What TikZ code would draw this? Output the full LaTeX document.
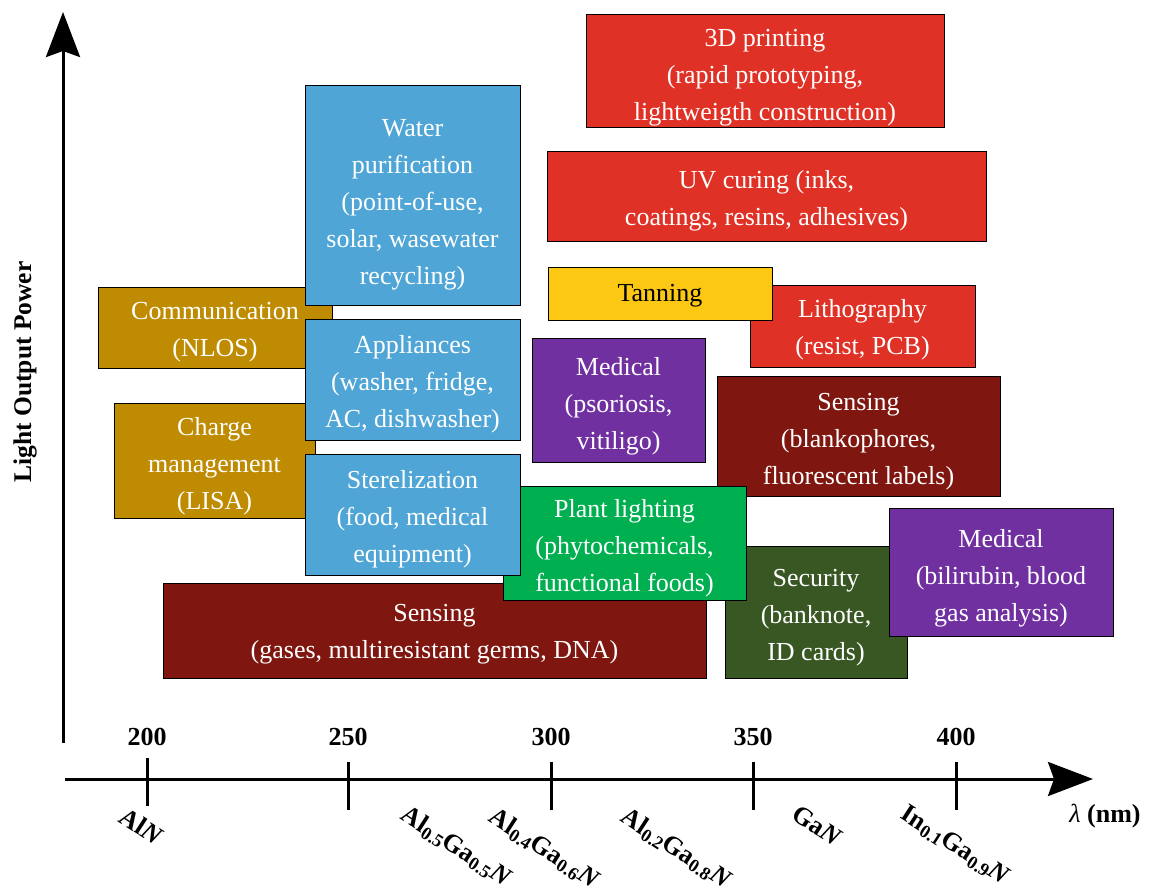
\documentclass[tikz,border=0pt]{standalone}
\usepackage{fontspec}
\setmainfont{Liberation Serif}
\usetikzlibrary{arrows.meta}
\definecolor{cred}{RGB}{224,49,38}
\definecolor{cblue}{RGB}{79,165,213}
\definecolor{cgold}{RGB}{191,139,0}
\definecolor{cyel}{RGB}{252,200,20}
\definecolor{cpurp}{RGB}{112,48,160}
\definecolor{cdred}{RGB}{127,23,16}
\definecolor{cgreen}{RGB}{0,176,80}
\definecolor{colive}{RGB}{56,87,35}
\begin{document}
\begin{tikzpicture}[x=1pt,y=-1pt,
  every node/.style={font=\fontsize{26}{37}\selectfont},
  appbox/.style={draw=black,line width=1pt,rectangle,inner sep=0pt},
  boxtext/.style={inner sep=0pt,align=center,text=white},
  axisline/.style={line width=3pt,-{Stealth[length=45pt,width=34pt,inset=6pt]}},
  tickline/.style={line width=3pt},
  ticklabel/.style={font=\fontsize{26}{30}\selectfont\bfseries},
  matlabel/.style={font=\fontsize{26}{30}\selectfont\bfseries,rotate=-33}]
\useasboundingbox (0,0) rectangle (1150,893);

% boxes (back to front), each followed by its text
\node[appbox,fill=cred,minimum width=358pt,minimum height=113pt] (print) at (765,71.5) {};
\node[boxtext] (printT) at ([yshift=-6pt]print.center) {3D printing\\(rapid prototyping,\\lightweigth construction)};
\node[appbox,fill=cred,minimum width=439pt,minimum height=90pt] (uv) at (766.5,197) {};
\node[boxtext] (uvT) at ([yshift=-4pt]uv.center) {UV curing (inks,\\coatings, resins, adhesives)};
\node[appbox,fill=cred,minimum width=225pt,minimum height=82pt] (litho) at (862.5,326) {};
\node[boxtext] (lithoT) at ([yshift=-4pt]litho.center) {Lithography\\(resist, PCB)};
\node[appbox,fill=cyel,minimum width=224pt,minimum height=53pt] (tan) at (660,293.5) {};
\node[boxtext,text=black] (tanT) at ([yshift=-2pt]tan.center) {Tanning};
\node[appbox,fill=cpurp,minimum width=173pt,minimum height=124pt] (medp) at (618.5,400) {};
\node[boxtext] (medpT) at ([yshift=-6pt]medp.center) {Medical\\(psoriosis,\\vitiligo)};
\node[appbox,fill=cdred,minimum width=283pt,minimum height=120pt] (sensb) at (858.5,436) {};
\node[boxtext] (sensbT) at ([yshift=-6pt]sensb.center) {Sensing\\(blankophores,\\fluorescent labels)};
\node[appbox,fill=cdred,minimum width=543pt,minimum height=95pt] (sensa) at (434.5,630.5) {};
\node[boxtext] (sensaT) at ([yshift=-4pt]sensa.center) {Sensing\\(gases, multiresistant germs, DNA)};
\node[appbox,fill=colive,minimum width=182pt,minimum height=132pt] (sec) at (816,612) {};
\node[boxtext] (secT) at ([yshift=-6pt]sec.center) {Security\\(banknote,\\ID cards)};
\node[appbox,fill=cpurp,minimum width=224pt,minimum height=128pt] (medb) at (1001,572) {};
\node[boxtext] (medbT) at ([yshift=-6pt]medb.center) {Medical\\(bilirubin, blood\\gas analysis)};
\node[appbox,fill=cgreen,minimum width=243pt,minimum height=114pt] (plant) at (624.5,543) {};
\node[boxtext] (plantT) at ([yshift=-5pt]plant.center) {Plant lighting\\(phytochemicals,\\functional foods)};
\node[appbox,fill=cgold,minimum width=234pt,minimum height=81pt] (comm) at (215,327.5) {};
\node[boxtext] (commT) at ([yshift=-5pt]comm.center) {Communication\\(NLOS)};
\node[appbox,fill=cgold,minimum width=201pt,minimum height=115pt] (charge) at (214.5,460.5) {};
\node[boxtext] (chargeT) at ([yshift=-6pt]charge.center) {Charge\\management\\(LISA)};
\node[appbox,fill=cblue,minimum width=215pt,minimum height=219pt] (water) at (412.5,195.5) {};
\node[boxtext] (waterT) at ([yshift=-9pt]water.center) {Water\\purification\\(point-of-use,\\solar, wasewater\\recycling)};
\node[appbox,fill=cblue,minimum width=215pt,minimum height=121pt] (appl) at (412.5,379.5) {};
\node[boxtext] (applT) at ([yshift=-5pt]appl.center) {Appliances\\(washer, fridge,\\AC, dishwasher)};
\node[appbox,fill=cblue,minimum width=215pt,minimum height=121pt] (ster) at (412.5,514.5) {};
\node[boxtext] (sterT) at ([yshift=-5pt]ster.center) {Sterelization\\(food, medical\\equipment)};

% axes
\coordinate (yb) at (63,743);
\coordinate (yt) at (63,12);
\coordinate (xl) at (65,779);
\coordinate (xr) at (1093,779);
\draw[axisline] (yb) -- (yt);
\draw[axisline] (xl) -- (xr);
\node[font=\fontsize{25.5}{30}\selectfont\bfseries,rotate=90] (ylab) at (25,372) {Light Output Power};
\node[font=\fontsize{26}{30}\selectfont] (xlab) at (1105,816) {\textit{λ} \textbf{(nm)}};

% ticks
\coordinate (t200a) at (147,757.5); \coordinate (t200b) at (147,806);
\coordinate (t250a) at (348,762); \coordinate (t250b) at (348,810);
\coordinate (t300a) at (551,762); \coordinate (t300b) at (551,810);
\coordinate (t350a) at (753,762); \coordinate (t350b) at (753,810);
\coordinate (t400a) at (956,762); \coordinate (t400b) at (956,810);
\draw[tickline] (t200a) -- (t200b);
\draw[tickline] (t250a) -- (t250b);
\draw[tickline] (t300a) -- (t300b);
\draw[tickline] (t350a) -- (t350b);
\draw[tickline] (t400a) -- (t400b);
\node[ticklabel] (l200) at (147,737) {200};
\node[ticklabel] (l250) at (348,737) {250};
\node[ticklabel] (l300) at (551,737) {300};
\node[ticklabel] (l350) at (753,737) {350};
\node[ticklabel] (l400) at (956,737) {400};

% material labels
\node[matlabel] (m1) at (142,826) {Al\textit{N}};
\node[matlabel] (m2) at (456,847) {Al\textsubscript{0.5}Ga\textsubscript{0.5}\textit{N}};
\node[matlabel] (m3) at (544,849) {Al\textsubscript{0.4}Ga\textsubscript{0.6}\textit{N}};
\node[matlabel] (m4) at (676,849) {Al\textsubscript{0.2}Ga\textsubscript{0.8}\textit{N}};
\node[matlabel] (m5) at (817,826) {Ga\textit{N}};
\node[matlabel] (m6) at (955,846) {In\textsubscript{0.1}Ga\textsubscript{0.9}\textit{N}};
\end{tikzpicture}
\end{document}
